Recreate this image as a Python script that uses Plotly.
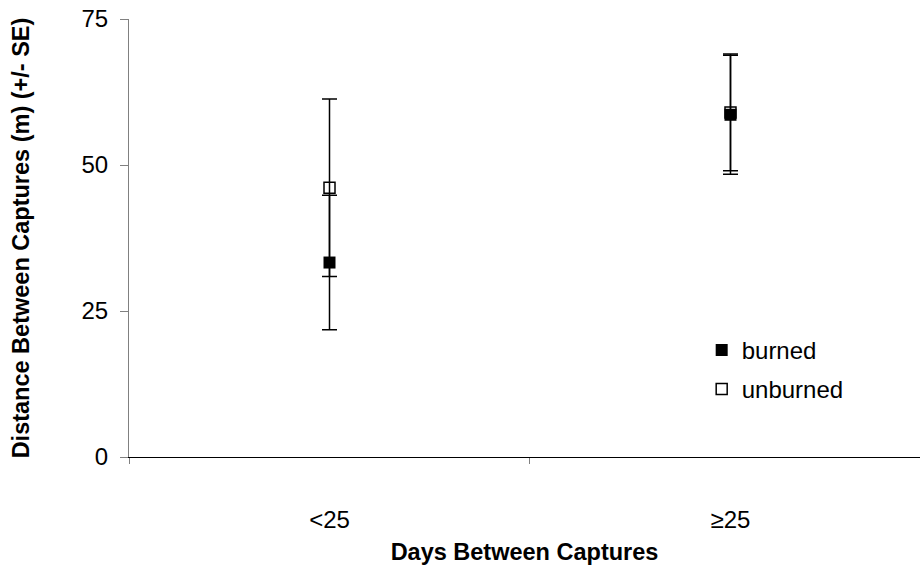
import plotly.graph_objects as go

categories = ["<25", "≥25"]
burned_mean = [33.3, 58.6]
burned_se = [11.5, 10.2]
unburned_mean = [46.1, 59.0]
unburned_se = [15.2, 10.0]
y_ticks = [0, 25, 50, 75]

FONT = "Liberation Sans, Arial, sans-serif"

fig = go.Figure()
fig.add_trace(go.Scatter(
    x=categories, y=burned_mean, mode="markers", name="burned",
    legendgroup="a",
    marker=dict(symbol="square", size=12, color="black", line=dict(width=0)),
    error_y=dict(type="data", array=burned_se, visible=True, color="black",
                 thickness=1.5, width=7.5),
))
fig.add_trace(go.Scatter(
    x=categories, y=unburned_mean, mode="markers", name="unburned",
    legendgroup="b",
    marker=dict(symbol="square-open", size=11, color="black", line=dict(width=1.5)),
    error_y=dict(type="data", array=unburned_se, visible=True, color="black",
                 thickness=1.5, width=7.5),
))

fig.update_layout(
    width=920, height=569,
    margin=dict(l=129, r=0, t=19, b=112, autoexpand=False),
    paper_bgcolor="white", plot_bgcolor="white",
    font=dict(family=FONT, size=24, color="black"),
    showlegend=True,
    legend=dict(x=0.724, y=0.295, xanchor="left", yanchor="top",
                font=dict(size=24), bgcolor="rgba(0,0,0,0)",
                traceorder="grouped", tracegroupgap=5),
    xaxis=dict(
        type="category", range=[-0.5, 1.4726], showgrid=False, zeroline=False,
        showline=True, linecolor="black", linewidth=1,
        ticks="outside", tickson="boundaries", ticklen=6, tickcolor="#808080",
        ticklabelstandoff=41,
        title=dict(text="<b>Days Between Captures</b>", font=dict(size=23.5), standoff=11),
    ),
    yaxis=dict(
        range=[0, 75], tickvals=y_ticks, showgrid=False, zeroline=False,
        showline=True, linecolor="#808080", linewidth=1,
        ticks="outside", ticklen=8, tickcolor="#808080",
        ticklabelstandoff=7, ticklabeloverflow="allow",
        title=dict(text="<b>Distance Between Captures (m) (+/- SE)</b>", font=dict(size=23.5), standoff=45),
    ),
)

fig.write_html("out.html", config={"displayModeBar": False},
               post_script="document.body.style.margin='0';")
